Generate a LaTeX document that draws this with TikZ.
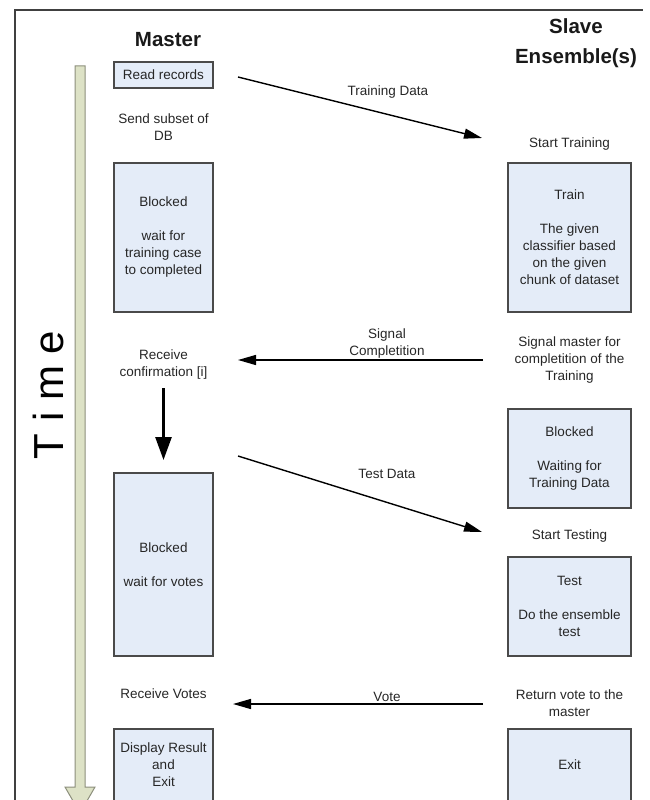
\documentclass[tikz,border=0pt]{standalone}
\usepackage{fontspec}
\setmainfont{Liberation Sans}
\usetikzlibrary{arrows.meta}
\definecolor{boxfill}{HTML}{E4ECF8}
\definecolor{boxline}{HTML}{4A4A4A}
\definecolor{timefill}{HTML}{DDE2C6}
\definecolor{timeline}{HTML}{8C8F7C}
\begin{document}
\begin{tikzpicture}[x=1pt,y=-1pt,
  every node/.style={font=\fontsize{13.5}{17}\selectfont, text=black!85, align=center, inner sep=0pt},
  mbox/.style={draw=boxline, fill=boxfill, line width=1.2pt, minimum width=99pt},
  sbox/.style={draw=boxline, fill=boxfill, line width=1.2pt, minimum width=123pt},
  head/.style={font=\bfseries\fontsize{20.5}{30}\selectfont, text=black!90},
  msg/.style={-{Triangle[length=18pt,width=10pt]}, line width=1.4pt},
  lbl/.style={anchor=south}]

\useasboundingbox (0,0) rectangle (650,800);
\clip (0,0) rectangle (650,800);

% --- Cornice e asse del tempo ---
\draw[line width=2pt, black!75] (15,805) -- (15,10) -- (643,10);
\draw[fill=timefill, draw=timeline, line width=1pt]
  (75,66) -- (85,66) -- (85,787) -- (95,787) -- (80,813) -- (65,787) -- (75,787) -- cycle;
\node[rotate=90, font=\fontsize{42}{42}\selectfont, text=black] (time) at (48,395) {T i m e};

% --- Colonna Master ---
\node[head] (master) at (168,40) {Master};
\node[mbox, minimum height=26pt] (readrec) at (163.5,75) {Read records};
\node (sendsub) at (163.5,127) {Send subset of\\DB};
\node[mbox, minimum height=149pt] (mblock) at (163.5,237.5) {Blocked\\[17pt]wait for\\training case\\to completed};
\node (recvconf) at (163.5,364.5) {Receive\\confirmation [i]};
\node[mbox, minimum height=183pt] (mvotes) at (163.5,564.5) {Blocked\\[17pt]wait for votes};
\node (recvvotes) at (163.5,694) {Receive Votes};
\node[mbox, minimum height=72pt] (mexit) at (163.5,765) {Display Result\\and\\Exit};

% --- Colonna Slave ---
\node[head] (slave) at (576,43) {Slave\\Ensemble(s)};
\node (starttrain) at (569.5,144) {Start Training};
\node[sbox, minimum height=149pt] (train) at (569.5,237.5) {Train\\[17pt]The given\\classifier based\\on the given\\chunk of dataset};
\node (signal) at (569.5,360) {Signal master for\\completition of the\\Training};
\node[sbox, minimum height=99pt] (sblock) at (569.5,458.5) {Blocked\\[17pt]Waiting for\\Training Data};
\node (starttest) at (569.5,536) {Start Testing};
\node[sbox, minimum height=99pt] (test) at (569.5,606.5) {Test\\[17pt]Do the ensemble\\test};
\node (retvote) at (569.5,703.5) {Return vote to the\\master};
\node[sbox, minimum height=72pt] (sexit) at (569.5,765) {Exit};

% --- Messaggi ---
\coordinate (td1) at (238,77);  \coordinate (td2) at (482,138);
\coordinate (sc1) at (483,360); \coordinate (sc2) at (238,360);
\coordinate (te1) at (238,456); \coordinate (te2) at (482,532);
\coordinate (vo1) at (483,704); \coordinate (vo2) at (233,704);
\coordinate (dn1) at (163.5,388); \coordinate (dn2) at (163.5,460);

\draw[msg] (td1) -- (td2);
\node (tdlbl) at (388,92) {Training Data};
\draw[msg] (sc1) -- (sc2);
\node[lbl] (sclbl) at (387,358) {Signal\\Completition};
\draw[msg] (te1) -- (te2);
\node (telbl) at (387,474) {Test Data};
\draw[msg] (vo1) -- (vo2);
\node[lbl] (volbl) at (387,702) {Vote};
\draw[-{Triangle[length=23pt,width=16pt]}, line width=2.6pt] (dn1) -- (dn2);

\end{tikzpicture}
\end{document}
